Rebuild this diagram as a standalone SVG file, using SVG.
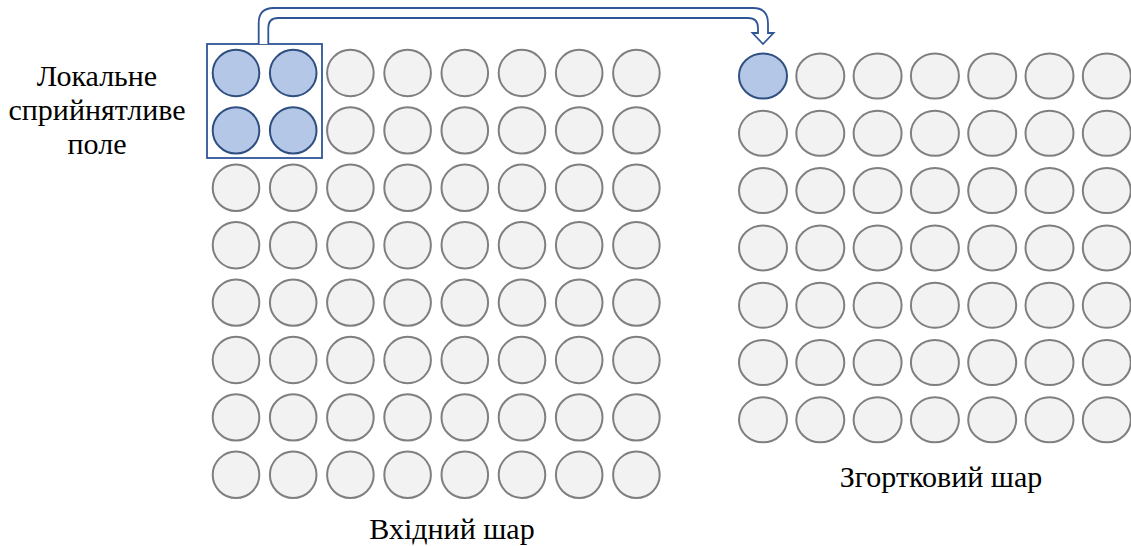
<svg xmlns="http://www.w3.org/2000/svg" width="1131" height="546" viewBox="0 0 1131 546">
  <style>
    .cell { fill: #f2f2f2; stroke: #7f7f7f; stroke-width: 2; }
    .active { fill: #b4c7e7; stroke: #2f4f80; stroke-width: 2; }
    .label { font-family: "Liberation Serif", "Times New Roman", serif; font-size: 30px; fill: #000; text-anchor: middle; }
    .frame { fill: none; stroke: #2f5597; stroke-width: 1.8; }
    .arrow { fill: #ffffff; stroke: #2f5597; stroke-width: 1.8; stroke-linejoin: miter; }
  </style>
  <defs>
    <ellipse id="c-in" rx="23.3" ry="23.2"/>
    <ellipse id="c-out" rx="24" ry="22.5"/>
  </defs>

  <rect width="1131" height="546" fill="#ffffff"/>

  <!-- input layer: 8 x 8 neurons -->
  <g id="input-layer">
    <g id="in-r0">
      <use href="#c-in" class="active" x="236" y="73"/>
      <use href="#c-in" class="active" x="293.2" y="73"/>
      <use href="#c-in" class="cell" x="350.4" y="73"/>
      <use href="#c-in" class="cell" x="407.6" y="73"/>
      <use href="#c-in" class="cell" x="464.8" y="73"/>
      <use href="#c-in" class="cell" x="522" y="73"/>
      <use href="#c-in" class="cell" x="579.2" y="73"/>
      <use href="#c-in" class="cell" x="636.4" y="73"/>
    </g>
    <g id="in-r1">
      <use href="#c-in" class="active" x="236" y="130.4"/>
      <use href="#c-in" class="active" x="293.2" y="130.4"/>
      <use href="#c-in" class="cell" x="350.4" y="130.4"/>
      <use href="#c-in" class="cell" x="407.6" y="130.4"/>
      <use href="#c-in" class="cell" x="464.8" y="130.4"/>
      <use href="#c-in" class="cell" x="522" y="130.4"/>
      <use href="#c-in" class="cell" x="579.2" y="130.4"/>
      <use href="#c-in" class="cell" x="636.4" y="130.4"/>
    </g>
    <g id="in-r2">
      <use href="#c-in" class="cell" x="236" y="187.8"/>
      <use href="#c-in" class="cell" x="293.2" y="187.8"/>
      <use href="#c-in" class="cell" x="350.4" y="187.8"/>
      <use href="#c-in" class="cell" x="407.6" y="187.8"/>
      <use href="#c-in" class="cell" x="464.8" y="187.8"/>
      <use href="#c-in" class="cell" x="522" y="187.8"/>
      <use href="#c-in" class="cell" x="579.2" y="187.8"/>
      <use href="#c-in" class="cell" x="636.4" y="187.8"/>
    </g>
    <g id="in-r3">
      <use href="#c-in" class="cell" x="236" y="245.2"/>
      <use href="#c-in" class="cell" x="293.2" y="245.2"/>
      <use href="#c-in" class="cell" x="350.4" y="245.2"/>
      <use href="#c-in" class="cell" x="407.6" y="245.2"/>
      <use href="#c-in" class="cell" x="464.8" y="245.2"/>
      <use href="#c-in" class="cell" x="522" y="245.2"/>
      <use href="#c-in" class="cell" x="579.2" y="245.2"/>
      <use href="#c-in" class="cell" x="636.4" y="245.2"/>
    </g>
    <g id="in-r4">
      <use href="#c-in" class="cell" x="236" y="302.6"/>
      <use href="#c-in" class="cell" x="293.2" y="302.6"/>
      <use href="#c-in" class="cell" x="350.4" y="302.6"/>
      <use href="#c-in" class="cell" x="407.6" y="302.6"/>
      <use href="#c-in" class="cell" x="464.8" y="302.6"/>
      <use href="#c-in" class="cell" x="522" y="302.6"/>
      <use href="#c-in" class="cell" x="579.2" y="302.6"/>
      <use href="#c-in" class="cell" x="636.4" y="302.6"/>
    </g>
    <g id="in-r5">
      <use href="#c-in" class="cell" x="236" y="360"/>
      <use href="#c-in" class="cell" x="293.2" y="360"/>
      <use href="#c-in" class="cell" x="350.4" y="360"/>
      <use href="#c-in" class="cell" x="407.6" y="360"/>
      <use href="#c-in" class="cell" x="464.8" y="360"/>
      <use href="#c-in" class="cell" x="522" y="360"/>
      <use href="#c-in" class="cell" x="579.2" y="360"/>
      <use href="#c-in" class="cell" x="636.4" y="360"/>
    </g>
    <g id="in-r6">
      <use href="#c-in" class="cell" x="236" y="417.4"/>
      <use href="#c-in" class="cell" x="293.2" y="417.4"/>
      <use href="#c-in" class="cell" x="350.4" y="417.4"/>
      <use href="#c-in" class="cell" x="407.6" y="417.4"/>
      <use href="#c-in" class="cell" x="464.8" y="417.4"/>
      <use href="#c-in" class="cell" x="522" y="417.4"/>
      <use href="#c-in" class="cell" x="579.2" y="417.4"/>
      <use href="#c-in" class="cell" x="636.4" y="417.4"/>
    </g>
    <g id="in-r7">
      <use href="#c-in" class="cell" x="236" y="474.8"/>
      <use href="#c-in" class="cell" x="293.2" y="474.8"/>
      <use href="#c-in" class="cell" x="350.4" y="474.8"/>
      <use href="#c-in" class="cell" x="407.6" y="474.8"/>
      <use href="#c-in" class="cell" x="464.8" y="474.8"/>
      <use href="#c-in" class="cell" x="522" y="474.8"/>
      <use href="#c-in" class="cell" x="579.2" y="474.8"/>
      <use href="#c-in" class="cell" x="636.4" y="474.8"/>
    </g>
  </g>

  <!-- receptive field frame -->
  <g id="receptive-field">
    <rect class="frame" x="207" y="44" width="115" height="114"/>
  </g>

  <!-- convolutional layer: 7 x 7 neurons -->
  <g id="conv-layer">
    <g id="out-r0">
      <use href="#c-out" class="active" x="763" y="76"/>
      <use href="#c-out" class="cell" x="820.3" y="76"/>
      <use href="#c-out" class="cell" x="877.6" y="76"/>
      <use href="#c-out" class="cell" x="934.9" y="76"/>
      <use href="#c-out" class="cell" x="992.2" y="76"/>
      <use href="#c-out" class="cell" x="1049.5" y="76"/>
      <use href="#c-out" class="cell" x="1106.8" y="76"/>
    </g>
    <g id="out-r1">
      <use href="#c-out" class="cell" x="763" y="133.3"/>
      <use href="#c-out" class="cell" x="820.3" y="133.3"/>
      <use href="#c-out" class="cell" x="877.6" y="133.3"/>
      <use href="#c-out" class="cell" x="934.9" y="133.3"/>
      <use href="#c-out" class="cell" x="992.2" y="133.3"/>
      <use href="#c-out" class="cell" x="1049.5" y="133.3"/>
      <use href="#c-out" class="cell" x="1106.8" y="133.3"/>
    </g>
    <g id="out-r2">
      <use href="#c-out" class="cell" x="763" y="190.6"/>
      <use href="#c-out" class="cell" x="820.3" y="190.6"/>
      <use href="#c-out" class="cell" x="877.6" y="190.6"/>
      <use href="#c-out" class="cell" x="934.9" y="190.6"/>
      <use href="#c-out" class="cell" x="992.2" y="190.6"/>
      <use href="#c-out" class="cell" x="1049.5" y="190.6"/>
      <use href="#c-out" class="cell" x="1106.8" y="190.6"/>
    </g>
    <g id="out-r3">
      <use href="#c-out" class="cell" x="763" y="247.9"/>
      <use href="#c-out" class="cell" x="820.3" y="247.9"/>
      <use href="#c-out" class="cell" x="877.6" y="247.9"/>
      <use href="#c-out" class="cell" x="934.9" y="247.9"/>
      <use href="#c-out" class="cell" x="992.2" y="247.9"/>
      <use href="#c-out" class="cell" x="1049.5" y="247.9"/>
      <use href="#c-out" class="cell" x="1106.8" y="247.9"/>
    </g>
    <g id="out-r4">
      <use href="#c-out" class="cell" x="763" y="305.2"/>
      <use href="#c-out" class="cell" x="820.3" y="305.2"/>
      <use href="#c-out" class="cell" x="877.6" y="305.2"/>
      <use href="#c-out" class="cell" x="934.9" y="305.2"/>
      <use href="#c-out" class="cell" x="992.2" y="305.2"/>
      <use href="#c-out" class="cell" x="1049.5" y="305.2"/>
      <use href="#c-out" class="cell" x="1106.8" y="305.2"/>
    </g>
    <g id="out-r5">
      <use href="#c-out" class="cell" x="763" y="362.5"/>
      <use href="#c-out" class="cell" x="820.3" y="362.5"/>
      <use href="#c-out" class="cell" x="877.6" y="362.5"/>
      <use href="#c-out" class="cell" x="934.9" y="362.5"/>
      <use href="#c-out" class="cell" x="992.2" y="362.5"/>
      <use href="#c-out" class="cell" x="1049.5" y="362.5"/>
      <use href="#c-out" class="cell" x="1106.8" y="362.5"/>
    </g>
    <g id="out-r6">
      <use href="#c-out" class="cell" x="763" y="419.8"/>
      <use href="#c-out" class="cell" x="820.3" y="419.8"/>
      <use href="#c-out" class="cell" x="877.6" y="419.8"/>
      <use href="#c-out" class="cell" x="934.9" y="419.8"/>
      <use href="#c-out" class="cell" x="992.2" y="419.8"/>
      <use href="#c-out" class="cell" x="1049.5" y="419.8"/>
      <use href="#c-out" class="cell" x="1106.8" y="419.8"/>
    </g>
  </g>

  <!-- bent block arrow from the receptive field to the output neuron -->
  <g id="connectors">
    <path class="arrow" d="M 258.7 44 L 258.7 23 Q 258.7 8 273.7 8 L 753 8 Q 768 8 768 23 L 768 33 L 773.5 33 L 763 44 L 752.5 33 L 758 33 L 758 28 Q 758 18 748 18 L 278 18 Q 268.3 18 268.3 28 L 268.3 44"/>
  </g>

  <!-- labels -->
  <g id="labels">
    <text class="label" x="97" y="86">Локальне</text>
    <text class="label" x="97" y="120">сприйнятливе</text>
    <text class="label" x="97" y="154">поле</text>
    <text class="label" x="452" y="539">Вхідний шар</text>
    <text class="label" x="941" y="487">Згортковий шар</text>
  </g>
</svg>
